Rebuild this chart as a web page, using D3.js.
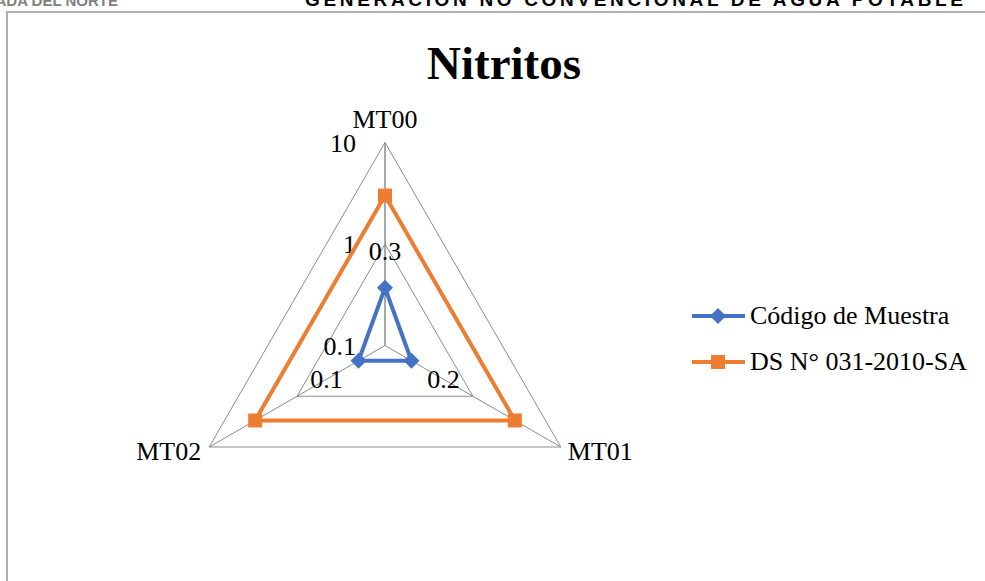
<!DOCTYPE html>
<html>
<head>
<meta charset="utf-8">
<script src="https://cdnjs.cloudflare.com/ajax/libs/d3/7.8.5/d3.min.js"></script>
<style>
  body { margin: 0; background: #fff; }
  svg { display: block; }
</style>
</head>
<body>
<svg id="drawing_region"></svg>
<script>
// chart data
const axes = ['MT00', 'MT01', 'MT02'];
const muestra = [0.37, 0.2, 0.2];
const muestraLabels = ['0.3', '0.2', '0.1'];
const norma = [3, 3, 3];
const tickValues = [0.1, 1, 10];
const tickLabels = ['0.1', '1', '10'];
const seriesNames = ['Código de Muestra', 'DS N° 031-2010-SA'];

const W = 985, H = 581;
const cx = 385, cy = 345.5, R = 203;
const blue = '#4472C4', orange = '#ED7D31';

const svg = d3.select('#drawing_region')
    .attr('width', W)
    .attr('height', H);

// page header (cut off by the crop)
svg.append('text')
    .attr('x', 118).attr('y', 6)
    .attr('text-anchor', 'end')
    .attr('font-family', 'Liberation Sans, Arial, sans-serif')
    .attr('font-weight', 'bold')
    .attr('font-size', 15)
    .attr('fill', '#7f7f7f')
    .text('UNIVERSIDAD PRIVADA DEL NORTE');
svg.append('text')
    .attr('x', 305).attr('y', 6)
    .attr('textLength', 658)
    .attr('font-family', 'Liberation Sans, Arial, sans-serif')
    .attr('font-weight', 'bold')
    .attr('font-size', 19)
    .attr('fill', '#000')
    .text('GENERACIÓN NO CONVENCIONAL DE AGUA POTABLE');

// chart frame
svg.append('rect')
    .attr('x', 7).attr('y', 12)
    .attr('width', 1000).attr('height', 600)
    .attr('fill', 'none')
    .attr('stroke', '#b0b0b0')
    .attr('stroke-width', 2);

svg.append('text')
    .attr('x', 504).attr('y', 79)
    .attr('text-anchor', 'middle')
    .attr('font-family', 'Liberation Serif, Times New Roman, serif')
    .attr('font-weight', 'bold')
    .attr('font-size', 47)
    .text('Nitritos');

const rscale = d3.scaleLog().domain([0.1, 10]).range([0, R]);
const angle = d3.scalePoint().domain(axes).range([0, 2 * Math.PI * (axes.length - 1) / axes.length]);
const ang = a => angle(a) - Math.PI / 2;
const pt = (a, v) => [cx + rscale(v) * Math.cos(ang(a)), cy + rscale(v) * Math.sin(ang(a))];

const g = svg.append('g');

// grid rings
tickValues.slice(1).forEach(t => {
    g.append('polygon')
        .attr('points', axes.map(a => pt(a, t).join(',')).join(' '))
        .attr('fill', 'none')
        .attr('stroke', '#8c8c8c')
        .attr('stroke-width', 1);
});
// spokes
axes.forEach(a => {
    const p = pt(a, 10);
    g.append('line')
        .attr('x1', cx).attr('y1', cy)
        .attr('x2', p[0]).attr('y2', p[1])
        .attr('stroke', '#8c8c8c')
        .attr('stroke-width', a === axes[0] ? 1.5 : 1);
});

const serif = 'Liberation Serif, Times New Roman, serif';
const fs = 26;

// tick labels along first axis
tickValues.forEach((t, i) => {
    g.append('text')
        .attr('x', cx - 29).attr('y', cy - rscale(t) + 9)
        .attr('text-anchor', 'end')
        .attr('font-family', serif)
        .attr('font-size', fs)
        .text(tickLabels[i]);
});

// axis category labels
axes.forEach((a, i) => {
    const p = pt(a, 10);
    const t = g.append('text')
        .attr('font-family', serif)
        .attr('font-size', fs)
        .text(a);
    if (i === 0) t.attr('x', p[0]).attr('y', p[1] - 15).attr('text-anchor', 'middle');
    else if (Math.cos(ang(a)) > 0) t.attr('x', p[0] + 7).attr('y', p[1] + 13).attr('text-anchor', 'start');
    else t.attr('x', p[0] - 8).attr('y', p[1] + 13).attr('text-anchor', 'end');
});

const line = d3.line().curve(d3.curveLinearClosed);

// orange series
g.append('path')
    .attr('d', line(axes.map((a, i) => pt(a, norma[i]))))
    .attr('fill', 'none')
    .attr('stroke', orange)
    .attr('stroke-width', 4)
    .attr('stroke-linejoin', 'round');
g.selectAll('.sq')
    .data(axes)
    .enter()
    .append('rect')
    .attr('x', (a, i) => pt(a, norma[i])[0] - 7)
    .attr('y', (a, i) => pt(a, norma[i])[1] - 7)
    .attr('width', 14).attr('height', 14)
    .attr('fill', orange);

// blue series
g.append('path')
    .attr('d', line(axes.map((a, i) => pt(a, muestra[i]))))
    .attr('fill', 'none')
    .attr('stroke', blue)
    .attr('stroke-width', 4)
    .attr('stroke-linejoin', 'round');
const diamond = (x, y, s) => `M${x},${y - s}L${x + s},${y}L${x},${y + s}L${x - s},${y}Z`;
g.selectAll('.dm')
    .data(axes)
    .enter()
    .append('path')
    .attr('d', (a, i) => { const p = pt(a, muestra[i]); return diamond(p[0], p[1], 8); })
    .attr('fill', blue);

// data labels of blue series
axes.forEach((a, i) => {
    const p = pt(a, muestra[i]);
    const off = 37;
    g.append('text')
        .attr('x', p[0] + off * Math.cos(ang(a)))
        .attr('y', p[1] + off * Math.sin(ang(a)) + 9)
        .attr('text-anchor', 'middle')
        .attr('font-family', serif)
        .attr('font-size', fs)
        .text(muestraLabels[i]);
});

// legend
const legend = svg.append('g');
[[blue, 'd'], [orange, 's']].forEach((s, i) => {
    const y = 316 + i * 46;
    legend.append('line')
        .attr('x1', 692).attr('x2', 745)
        .attr('y1', y).attr('y2', y)
        .attr('stroke', s[0]).attr('stroke-width', 4);
    if (s[1] === 'd') legend.append('path').attr('d', diamond(718, y, 8)).attr('fill', s[0]);
    else legend.append('rect').attr('x', 711).attr('y', y - 7).attr('width', 14).attr('height', 14).attr('fill', s[0]);
    legend.append('text')
        .attr('x', 750).attr('y', y + 8)
        .attr('font-family', serif)
        .attr('font-size', fs)
        .text(seriesNames[i]);
});
</script>
</body>
</html>
